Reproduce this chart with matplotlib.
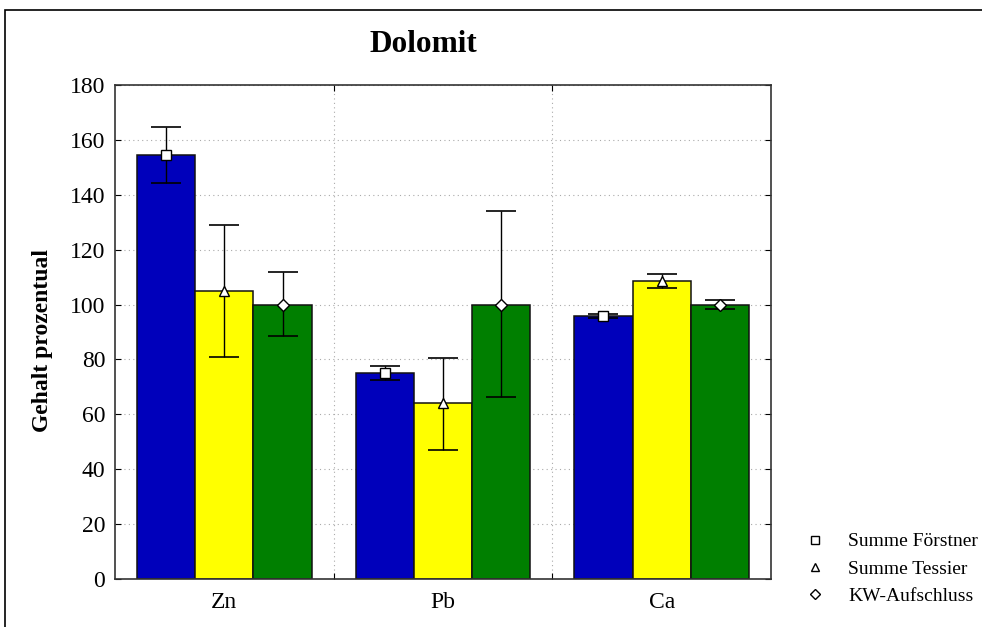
import matplotlib
matplotlib.use("Agg")
import matplotlib.pyplot as plt
import numpy as np
from matplotlib.patches import Rectangle
from matplotlib.lines import Line2D

categories = ["Zn", "Pb", "Ca"]
series = ["Summe Förstner", "Summe Tessier", "KW-Aufschluss"]
vals_foerstner = [154.5, 75.0, 95.8]
vals_tessier = [104.8, 64.0, 108.5]
vals_kw = [100.0, 100.0, 100.0]
err_lo_foerstner = [144.3, 72.5, 95.0]
err_hi_foerstner = [164.8, 77.5, 96.6]
err_lo_tessier = [81.0, 47.0, 106.2]
err_hi_tessier = [129.0, 80.5, 111.0]
err_lo_kw = [88.5, 66.3, 98.5]
err_hi_kw = [111.8, 134.0, 101.6]
yticks = [0, 20, 40, 60, 80, 100, 120, 140, 160, 180]

colors = ["#0000BB", "#FFFF00", "#007F00"]
markers = ["s", "^", "D"]
msizes = [7.5, 7.5, 6]

plt.rcParams['font.family'] = ['Liberation Serif', 'DejaVu Serif']

fig = plt.figure(figsize=(9.82, 6.27), dpi=100)
W, H = 982, 627
ax = fig.add_axes([115 / W, 1 - 579 / H, (771 - 115) / W, (579 - 85) / H])

# figure frame
fig.patches.append(Rectangle((5 / W, -0.1), 1.2, (1 - 10 / H) + 0.1,
                             transform=fig.transFigure, fill=False,
                             edgecolor="black", linewidth=1.2))

x = np.arange(len(categories)) + 0.5
bw = 0.2667
data = [(vals_foerstner, err_lo_foerstner, err_hi_foerstner),
        (vals_tessier, err_lo_tessier, err_hi_tessier),
        (vals_kw, err_lo_kw, err_hi_kw)]
for i, (v, lo, hi) in enumerate(data):
    xs = x + (i - 1) * bw
    v = np.array(v); lo = np.array(lo); hi = np.array(hi)
    ax.bar(xs, v, width=bw, color=colors[i], edgecolor="#111111", linewidth=1.1, zorder=2)
    ax.errorbar(xs, v, yerr=[v - lo, hi - v], fmt="none", ecolor="black",
                elinewidth=1.0, capsize=10.5, capthick=1.2, zorder=3)
    ax.plot(xs, v, linestyle="none", marker=markers[i], markersize=msizes[i],
            markerfacecolor="white", markeredgecolor="black", markeredgewidth=1.0, zorder=4)

ax.set_xlim(0, 3)
ax.set_ylim(0, 180)
ax.set_yticks(yticks)
ax.set_xticks([1, 2])
ax.set_xticklabels([])
ax.set_xticks(x, minor=True)
ax.set_xticklabels(categories, minor=True, fontsize=17)
ax.tick_params(axis="x", which="minor", length=0, pad=9)
ax.tick_params(axis="x", which="major", direction="in", length=4, top=True)
ax.tick_params(axis="y", direction="in", length=4, right=True, labelsize=17, pad=7)
ax.grid(True, which="major", linestyle=(0, (1, 3)), color="#AAAAAA", linewidth=0.8, zorder=0)
ax.set_axisbelow(True)
for s in ax.spines.values():
    s.set_linewidth(1.2)
    s.set_color("#333333")

ax.set_ylabel("Gehalt prozentual", fontsize=17, fontweight="bold")
ax.yaxis.set_label_coords((53 - 115) / (771 - 115), (579 - 340) / (579 - 85))
fig.text(423 / W, 1 - 44 / H, "Dolomit", fontsize=22.5, fontweight="bold",
         ha="center", va="center")

handles = [Line2D([], [], linestyle="none", marker=m, markersize=6 if m != "D" else 5,
                  markerfacecolor="white", markeredgecolor="black") for m in markers]
leg = fig.legend(handles, series, loc="center left", bbox_to_anchor=(786 / W, 1 - 569 / H),
                 frameon=False, fontsize=14, handlelength=1.2, handletextpad=1.1,
                 labelspacing=0.5)

fig.savefig("out.png", dpi=100)
